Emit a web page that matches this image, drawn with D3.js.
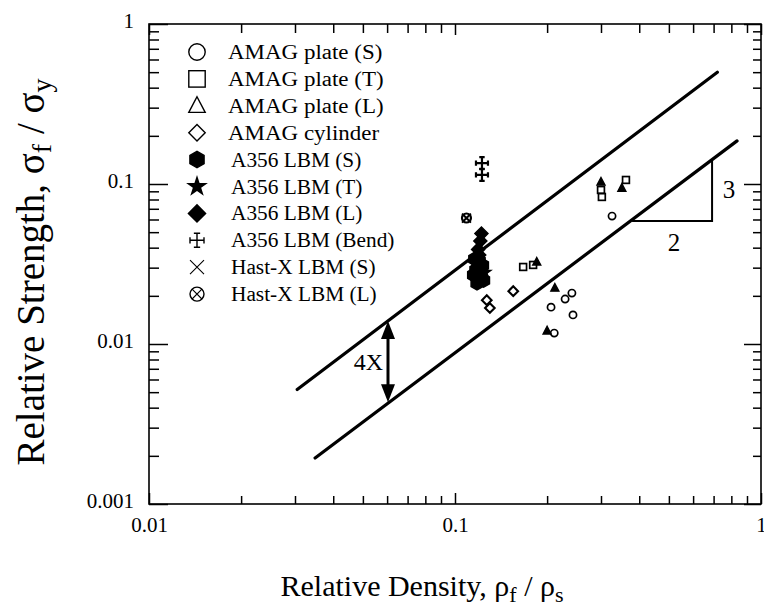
<!DOCTYPE html>
<html>
<head>
<meta charset="utf-8">
<script src="https://cdn.jsdelivr.net/npm/d3@7"></script>
<style>
  body { margin: 0; background: #fff; }
</style>
</head>
<body>
<svg></svg>
<script>
const w = 764;
const h = 611;

// tick labels
const xTickLabels = ['0.01', '0.1', '1'];
const yTickLabels = ['0.001', '0.01', '0.1', '1'];

// AMAG plate (S) - open circles
const plateS_x = [0.326, 0.241, 0.229, 0.206, 0.243, 0.211];
const plateS_y = [0.063, 0.0208, 0.0191, 0.0170, 0.0152, 0.0117];
// AMAG plate (T) - squares
const plateT_x = [0.300, 0.302, 0.362, 0.167, 0.180];
const plateT_y = [0.0918, 0.083, 0.106, 0.0303, 0.0312];
// AMAG plate (L) - triangles
const plateL_x = [0.300, 0.351, 0.185, 0.212, 0.200];
const plateL_y = [0.103, 0.0944, 0.0326, 0.0224, 0.0121];
// AMAG cylinder - diamonds
const cyl_x = [0.155, 0.127, 0.130];
const cyl_y = [0.0214, 0.0188, 0.0168];
// A356 LBM (S) - hexagons
const a356S_x = [0.116, 0.120, 0.123, 0.117, 0.121, 0.115, 0.120, 0.124, 0.118, 0.122];
const a356S_y = [0.034, 0.033, 0.031, 0.029, 0.028, 0.027, 0.026, 0.025, 0.024, 0.0255];
// A356 LBM (T) - stars
const a356T_x = [0.116, 0.121, 0.119, 0.125];
const a356T_y = [0.032, 0.030, 0.0265, 0.028];
// A356 LBM (L) - filled diamonds
const a356L_x = [0.122, 0.121, 0.119, 0.120];
const a356L_y = [0.049, 0.044, 0.039, 0.036];
// A356 LBM (Bend)
const bend_x = [0.1225, 0.1225];
const bend_y = [0.135, 0.114];
// Hast-X LBM (S) and (L)
const hastS_x = [0.109];
const hastS_y = [0.0613];
const hastL_x = [0.109];
const hastL_y = [0.0613];

// guide lines
const upperLineX = [0.0305, 0.72];
const upperLineY = [0.0052, 0.5];
const lowerLineX = [0.0349, 0.835];
const lowerLineY = [0.00194, 0.186];
const arrowX = 0.0604;
const arrowY = [0.0139, 0.00433];
const slopeX = [0.379, 0.692];
const slopeY = [0.0587, 0.142];

const legendLabels = ['AMAG plate (S)', 'AMAG plate (T)', 'AMAG plate (L)', 'AMAG cylinder',
  'A356 LBM (S)', 'A356 LBM (T)', 'A356 LBM (L)', 'A356 LBM (Bend)', 'Hast-X LBM (S)', 'Hast-X LBM (L)'];
const legendKinds = ['circle', 'square', 'triangle', 'diamond', 'hexagon', 'star', 'fdiamond', 'bend', 'x', 'ox'];

const svg = d3.select('svg').attr('width', w).attr('height', h);

const x = d3.scaleLog().domain([0.01, 1]).range([149, 761]);
const y = d3.scaleLog().domain([0.001, 1]).range([504, 24]);

const majorsX = [0.01, 0.1, 1];
const majorsY = [0.001, 0.01, 0.1, 1];
const minors = d3.merge([0.001, 0.01, 0.1].map(d => d3.range(2, 10).map(k => k * d)));
const minorsX = minors.filter(d => d > 0.01 && d < 1);
const minorsY = minors.filter(d => d > 0.001 && d < 1);

function styleAxis(g) {
  g.attr('font-family', null);
  g.select('.domain').remove();
  g.selectAll('line').attr('stroke', '#000').attr('stroke-width', 1.5);
  g.selectAll('text').attr('fill', '#000').style('font-size', '21px');
}

// bottom
svg.append('g').attr('transform', 'translate(0,504)')
  .call(d3.axisBottom(x).tickValues(majorsX).tickSize(-11).tickPadding(13).tickFormat((d, i) => xTickLabels[i]))
  .call(styleAxis);
svg.append('g').attr('transform', 'translate(0,504)')
  .call(d3.axisBottom(x).tickValues(minorsX).tickSize(-8).tickFormat(''))
  .call(styleAxis);
// top
svg.append('g').attr('transform', 'translate(0,24)')
  .call(d3.axisTop(x).tickValues(majorsX).tickSize(-11).tickFormat(''))
  .call(styleAxis);
svg.append('g').attr('transform', 'translate(0,24)')
  .call(d3.axisTop(x).tickValues(minorsX).tickSize(-9).tickFormat(''))
  .call(styleAxis);
// left
svg.append('g').attr('transform', 'translate(149,0)')
  .call(d3.axisLeft(y).tickValues(majorsY).tickSize(-19).tickPadding(15).tickFormat((d, i) => yTickLabels[i]))
  .call(styleAxis)
  .selectAll('text').attr('dy', '0.15em');
svg.append('g').attr('transform', 'translate(149,0)')
  .call(d3.axisLeft(y).tickValues(minorsY).tickSize(-10).tickFormat(''))
  .call(styleAxis);
// right
svg.append('g').attr('transform', 'translate(761,0)')
  .call(d3.axisRight(y).tickValues(majorsY).tickSize(-17).tickFormat(''))
  .call(styleAxis);
svg.append('g').attr('transform', 'translate(761,0)')
  .call(d3.axisRight(y).tickValues(minorsY).tickSize(-8).tickFormat(''))
  .call(styleAxis);

// frame
svg.append('rect')
  .attr('x', x(0.01)).attr('y', y(1))
  .attr('width', x(1) - x(0.01)).attr('height', y(0.001) - y(1))
  .attr('fill', 'none').attr('stroke', '#000').attr('stroke-width', 1.6);

// axis titles
const xt = svg.append('text').attr('x', 422).attr('y', 596).attr('text-anchor', 'middle')
  .style('font-size', '30px');
xt.append('tspan').text('Relative Density,  \u03c1');
xt.append('tspan').attr('baseline-shift', '-25%').style('font-size', '22px').text('f');
xt.append('tspan').text(' / \u03c1');
xt.append('tspan').attr('baseline-shift', '-25%').style('font-size', '22px').text('s');

const yt = svg.append('text').attr('transform', 'translate(44,272) rotate(-90)').attr('text-anchor', 'middle')
  .style('font-size', '39px');
yt.append('tspan').text('Relative Strength, \u03c3');
yt.append('tspan').attr('baseline-shift', '-25%').style('font-size', '28px').text('f');
yt.append('tspan').text(' / \u03c3');
yt.append('tspan').attr('baseline-shift', '-25%').style('font-size', '28px').text('y');

// guide lines
const line = d3.line().x(d => x(d[0])).y(d => y(d[1]));
svg.append('path').datum(d3.zip(upperLineX, upperLineY)).attr('d', line)
  .attr('stroke', '#000').attr('stroke-width', 3.2).attr('fill', 'none').attr('stroke-linecap', 'round');
svg.append('path').datum(d3.zip(lowerLineX, lowerLineY)).attr('d', line)
  .attr('stroke', '#000').attr('stroke-width', 3.2).attr('fill', 'none').attr('stroke-linecap', 'round');

// slope triangle
svg.append('path').datum([[slopeX[0], slopeY[0]], [slopeX[1], slopeY[0]], [slopeX[1], slopeY[1]]]).attr('d', line)
  .attr('stroke', '#000').attr('stroke-width', 2).attr('fill', 'none');
svg.append('text').attr('x', x(slopeX[1]) + 17).attr('y', (y(slopeY[0]) + y(slopeY[1])) / 2 + 8)
  .style('font-size', '25px').attr('text-anchor', 'middle').text('3');
svg.append('text').attr('x', (x(slopeX[0]) + x(slopeX[1])) / 2 + 2).attr('y', y(slopeY[0]) + 30)
  .style('font-size', '25px').attr('text-anchor', 'middle').text('2');

// 4X arrow
const ax = x(arrowX), ay1 = y(arrowY[0]), ay2 = y(arrowY[1]);
svg.append('line').attr('x1', ax).attr('x2', ax).attr('y1', ay1 + 12).attr('y2', ay2 - 12)
  .attr('stroke', '#000').attr('stroke-width', 3);
svg.append('path').attr('d', `M${ax},${ay1} L${ax - 7},${ay1 + 18} L${ax + 7},${ay1 + 18} Z`).attr('fill', '#000');
svg.append('path').attr('d', `M${ax},${ay2} L${ax - 7},${ay2 - 18} L${ax + 7},${ay2 - 18} Z`).attr('fill', '#000');
svg.append('text').attr('x', ax - 5).attr('y', (ay1 + ay2) / 2 + 8).attr('text-anchor', 'end')
  .style('font-size', '24px').text('4X');

// marker drawing
function hexPath(r) {
  return d3.range(6).map(i => {
    const a = Math.PI / 6 + i * Math.PI / 3;
    return (i ? 'L' : 'M') + (r * Math.cos(a)).toFixed(2) + ',' + (r * Math.sin(a)).toFixed(2);
  }).join('') + 'Z';
}
function drawMarker(g, kind, s, sw) {
  // s: half-size in px
  const apply = (sel, fill) => { sel.attr('stroke', '#000').attr('stroke-width', sw).attr('fill', fill); return sel; };
  if (kind === 'circle') apply(g.append('circle').attr('r', s), 'none');
  else if (kind === 'square') apply(g.append('rect').attr('x', -s).attr('y', -s).attr('width', 2 * s).attr('height', 2 * s), 'none');
  else if (kind === 'triangle') apply(g.append('path').attr('d', `M0,${-s * 1.1}L${s},${s * 0.8}L${-s},${s * 0.8}Z`), 'none');
  else if (kind === 'ftriangle') apply(g.append('path').attr('d', `M0,${-s * 1.1}L${s},${s * 0.8}L${-s},${s * 0.8}Z`), '#000');
  else if (kind === 'diamond') apply(g.append('path').attr('d', `M0,${-s}L${s},0L0,${s}L${-s},0Z`), 'none');
  else if (kind === 'fdiamond') apply(g.append('path').attr('d', `M0,${-s * 1.05}L${s * 1.05},0L0,${s * 1.05}L${-s * 1.05},0Z`), '#000');
  else if (kind === 'hexagon') apply(g.append('path').attr('d', hexPath(s)), '#000');
  else if (kind === 'star') g.append('path').attr('d', d3.symbol(d3.symbolStar, s * s * 2.2)()).attr('fill', '#000');
  else if (kind === 'x') g.append('path').attr('d', `M${-s},${-s}L${s},${s}M${s},${-s}L${-s},${s}`)
    .attr('stroke', '#000').attr('stroke-width', sw * 0.8);
  else if (kind === 'ox') {
    apply(g.append('circle').attr('r', s), 'none');
    g.append('path').attr('d', `M${-s * 0.7},${-s * 0.7}L${s * 0.7},${s * 0.7}M${s * 0.7},${-s * 0.7}L${-s * 0.7},${s * 0.7}`)
      .attr('stroke', '#000').attr('stroke-width', sw * 0.8);
  } else if (kind === 'bend') {
    const c = s * 0.45;
    g.append('path').attr('d',
      `M0,${-s}L0,${s}M${-s},0L${s},0M${-c},${-s}L${c},${-s}M${-c},${s}L${c},${s}M${-s},${-c}L${-s},${c}M${s},${-c}L${s},${c}`)
      .attr('stroke', '#000').attr('stroke-width', sw).attr('fill', 'none');
  }
}

// legend
const legendTexts = [];
legendLabels.forEach((lab, i) => {
  const ly = 52 + i * 26.9;
  const g = svg.append('g').attr('transform', `translate(197,${ly})`);
  const k = legendKinds[i];
  drawMarker(g, k, k === 'x' || k === 'ox' || k === 'bend' ? 7 : 8.2, 1.4);
  legendTexts.push(svg.append('text').attr('x', i < 4 ? 228 : 231).attr('y', ly + 7).style('font-size', '20.5px').text(lab));
});

// data points
const series = [
  [plateS_x, plateS_y, 'circle', 3.6, 1.7],
  [plateT_x, plateT_y, 'square', 3.4, 1.7],
  [plateL_x, plateL_y, 'ftriangle', 4, 1.4],
  [cyl_x, cyl_y, 'diamond', 4.8, 2.1],
  [a356S_x, a356S_y, 'hexagon', 6.8, 1.5],
  [a356T_x, a356T_y, 'star', 6.2, 1.5],
  [a356L_x, a356L_y, 'fdiamond', 6.2, 1.5],
  [bend_x, bend_y, 'bend', 6, 2.2],
  [hastS_x, hastS_y, 'x', 4.5, 2.2],
  [hastL_x, hastL_y, 'ox', 4.5, 2.2]
];
series.forEach(([xs, ys, kind, s, sw]) => {
  svg.append('g').selectAll('g')
    .data(d3.zip(xs, ys))
    .enter()
    .append('g')
    .attr('transform', d => `translate(${x(d[0])},${y(d[1])})`)
    .each(function () { drawMarker(d3.select(this), kind, s, sw); });
});

// serif font on every text
svg.selectAll('text').style('font-family', '"Liberation Serif", serif');

// legend labels in the scan are a little wider than the font
legendTexts.forEach((t, i) => {
  const len = t.node().getComputedTextLength();
  t.attr('textLength', len * (i < 4 ? 1.12 : 1.04)).attr('lengthAdjust', 'spacingAndGlyphs');
});
</script>
</body>
</html>
